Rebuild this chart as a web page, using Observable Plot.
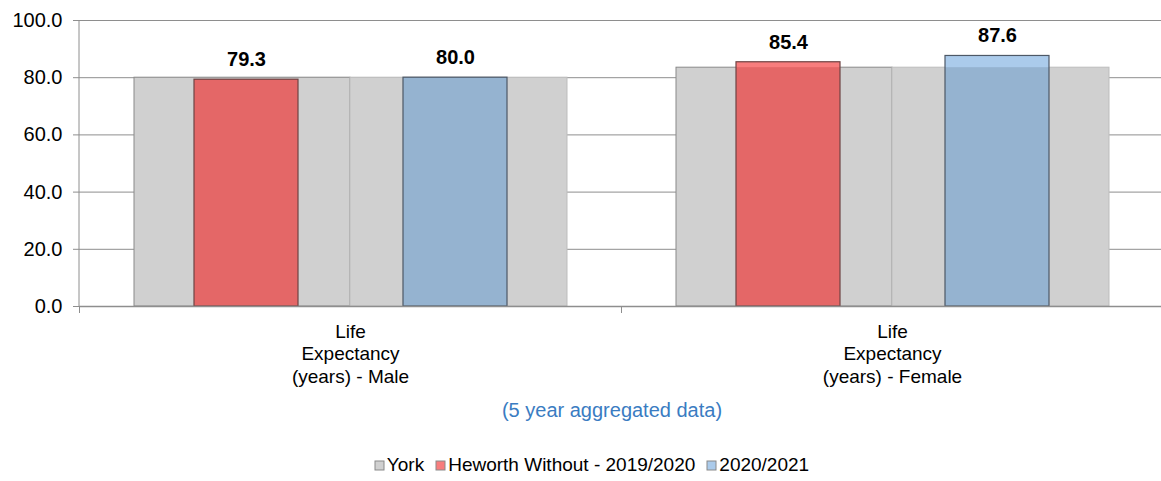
<!DOCTYPE html>
<html>
<head>
<meta charset="utf-8">
<script src="https://cdn.jsdelivr.net/npm/d3@7"></script>
<script src="https://cdn.jsdelivr.net/npm/@observablehq/plot@0.6"></script>
<style>
  body { margin: 0; background: #fff; font-family: "Liberation Sans", Arial, sans-serif; }
  #wrap { position: relative; width: 1161px; height: 481px; overflow: hidden; }
  #chart { position: absolute; left: 0; top: 0; }
  #sub { position: absolute; left: 0; width: 1224px; top: 399px; text-align: center; color: #3a7cc2; font-size: 20px; }
  #leg { position: absolute; left: 0; width: 1196px; top: 454px; display: flex; justify-content: center; }
  #leg .lg-swatches, #leg .lg, #leg > div { font-family: "Liberation Sans", Arial, sans-serif !important; font-size: 19px !important; color: #000 !important; margin: 0 !important; min-height: 0 !important; flex-wrap: nowrap !important; }
  #leg .lg-swatch { margin-right: 12px !important; white-space: nowrap; font-size: 19px !important; }
  #leg .lg-swatch svg { margin-right: 3px !important; overflow: visible; }
  #leg .lg-swatch svg rect { stroke: #8a8a8a; stroke-width: 1px; }
</style>
</head>
<body>
<div id="wrap">
  <div id="chart"></div>
  <div id="sub"></div>
  <div id="leg"></div>
</div>
<script>
// ---- data ----
const categories = ["Life\nExpectancy\n(years) - Male", "Life\nExpectancy\n(years) - Female"];
const york1920 = [80.0, 83.5];
const york2021 = [80.0, 83.5];
const heworth1920 = [79.3, 85.4];
const heworth2021 = [80.0, 87.6];
const seriesNames = ["York", "Heworth Without - 2019/2020", "2020/2021"];
const seriesColors = ["#d0d0d0", "#f87d7d", "#abcbeb"];
const yTicks = [0, 20, 40, 60, 80, 100];
const subtitle = "(5 year aggregated data)";

// ---- chart ----
const idx = d3.range(categories.length);
const cat = i => categories[i];

const redIn = {insetLeft: 115, insetRight: 323};
const blueIn = {insetLeft: 324, insetRight: 114};

const chart = Plot.plot({
  width: 1161,
  height: 395,
  marginTop: 20,
  marginBottom: 89,
  marginLeft: 79,
  marginRight: 0,
  style: {fontFamily: "'Liberation Sans', Arial, sans-serif", fontSize: "19px", color: "#000", background: "#fff", overflow: "visible"},
  x: {domain: categories, range: [79, 1163], padding: 0, label: null},
  y: {domain: [0, 100], label: null},
  marks: [
    Plot.ruleY(yTicks.slice(1), {stroke: "#8e8e8e", strokeWidth: 1}),
    // York bars (background)
    Plot.barY(idx, {x: cat, y: i => york1920[i], fill: "#d0d0d0", stroke: "#8a8a8a", insetLeft: 55, insetRight: 271}),
    Plot.barY(idx, {x: cat, y: i => york2021[i], fill: "#d0d0d0", stroke: "#bdbdbd", insetLeft: 271, insetRight: 54}),
    // Heworth 2019/2020
    Plot.barY(idx, {x: cat, y: i => heworth1920[i], fill: "#f87d7d", ...redIn}),
    Plot.barY(idx, {x: cat, y: i => Math.min(heworth1920[i], york1920[i]), fill: "#e46767", ...redIn}),
    Plot.barY(idx, {x: cat, y: i => heworth1920[i], fill: "none", stroke: "#6e4444", strokeWidth: 1.2, ...redIn}),
    // Heworth 2020/2021
    Plot.barY(idx, {x: cat, y: i => heworth2021[i], fill: "#abcbeb", ...blueIn}),
    Plot.barY(idx, {x: cat, y: i => Math.min(heworth2021[i], york2021[i]), fill: "#95b3d0", ...blueIn}),
    Plot.barY(idx, {x: cat, y: i => heworth2021[i], fill: "none", stroke: "#4d5866", strokeWidth: 1.2, ...blueIn}),
    // value labels
    Plot.text(idx, {x: cat, y: i => heworth1920[i], text: i => heworth1920[i].toFixed(1), dx: -104, dy: -20, fontWeight: "bold", fontSize: 20, fill: "#000"}),
    Plot.text(idx, {x: cat, y: i => heworth2021[i], text: i => heworth2021[i].toFixed(1), dx: 105, dy: -20, fontWeight: "bold", fontSize: 20, fill: "#000"}),
    // axes
    Plot.ruleY([0], {stroke: "#8e8e8e", strokeWidth: 1.6}),
    Plot.axisY({ticks: yTicks, tickFormat: d => d.toFixed(1), tickSize: 6, tickPadding: 11, stroke: "#8e8e8e", fill: "#000", fontSize: 20}),
    Plot.axisX({tickSize: 0, tickPadding: 15, lineHeight: 1.2, fill: "#000", fontSize: 19}),
    Plot.axisX({tickSize: 7, tickFormat: () => "", dx: -271, stroke: "#8e8e8e"})
  ]
});
document.getElementById("chart").appendChild(chart);

// y axis line
d3.select(chart).append("line")
  .attr("x1", 79).attr("x2", 79)
  .attr("y1", chart.scale("y").apply(100)).attr("y2", chart.scale("y").apply(0))
  .attr("stroke", "#8e8e8e");

document.getElementById("sub").textContent = subtitle;

const legend = Plot.legend({
  color: {type: "categorical", domain: seriesNames, range: seriesColors},
  swatchSize: 9,
  className: "lg",
  style: {fontSize: "19px", fontFamily: "'Liberation Sans', Arial, sans-serif", color: "#000"}
});
document.getElementById("leg").appendChild(legend);
</script>
</body>
</html>
